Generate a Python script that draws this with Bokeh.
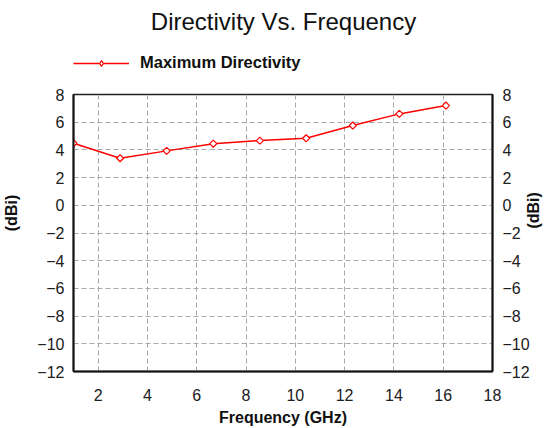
import numpy as np
from bokeh.plotting import figure
from bokeh.layouts import column
from bokeh.models import (Range1d, LinearAxis, FixedTicker, Legend, LegendItem,
                          Label, ColumnDataSource)
from bokeh.embed import file_html
from bokeh.resources import INLINE

# Maximum directivity across the band
freq_ghz = [1.0, 2.89, 4.78, 6.67, 8.56, 10.44, 12.33, 14.22, 16.11]
directivity_dbi = [4.48, 3.40, 3.93, 4.45, 4.67, 4.84, 5.76, 6.60, 7.20]

x_ticks = [2, 4, 6, 8, 10, 12, 14, 16, 18]
y_ticks = [-12, -10, -8, -6, -4, -2, 0, 2, 4, 6, 8]

series_name = "Maximum Directivity"
chart_title = "Directivity Vs. Frequency"
x_title = "Frequency (GHz)"
y_title = "(dBi)"

FONT = "Liberation Sans"
RED = "#ff0000"
INK = "#101010"
W, H = 553, 428
HEADER_H = 80
LEFT, RIGHT, TOP, BOTTOM = 72, 61, 94, 55
FRAME_W = W - LEFT - RIGHT

src = ColumnDataSource(dict(f=freq_ghz, d=directivity_dbi))

# ---- header strip: title and legend (its frame lines up with the chart's) ----
head = figure(width=W, height=HEADER_H, output_backend="svg",
              toolbar_location=None, x_range=Range1d(0, 1),
              y_range=Range1d(-100, -99),
              x_axis_location=None, y_axis_location=None,
              min_border=0, outline_line_color=None,
              background_fill_color="white", border_fill_color="white")
head.grid.visible = False

head.add_layout(Label(text=chart_title, x=FRAME_W / 2, y=HEADER_H - 21,
                      x_units="screen", y_units="screen",
                      text_font=FONT, text_font_size="24px",
                      text_align="center", text_baseline="middle",
                      text_color=INK))

# series drawn again here only to key the legend; it falls outside this range
key_line = head.line("f", "d", source=src, line_color=RED, line_width=1.5)
key_mark = head.scatter("f", "d", source=src, marker="diamond", size=9,
                        line_color=RED, line_width=1.2, fill_color="white")
legend = Legend(items=[LegendItem(label=series_name,
                                  renderers=[key_line, key_mark])],
                location=(0, HEADER_H - 72), orientation="horizontal",
                glyph_width=56, glyph_height=14, label_standoff=11,
                padding=0, margin=0, spacing=0,
                border_line_color=None, background_fill_alpha=0,
                label_text_font=FONT, label_text_font_size="16.5px",
                label_text_font_style="bold", label_text_color=INK)
head.add_layout(legend)

# ---- main chart ----
p = figure(width=W, height=H - HEADER_H, output_backend="svg",
           toolbar_location=None,
           x_range=Range1d(1, 18), y_range=Range1d(-12, 8),
           min_border_left=LEFT, min_border_right=RIGHT,
           min_border_top=TOP - HEADER_H, min_border_bottom=BOTTOM,
           background_fill_color="white", border_fill_color="white")

p.outline_line_color = "#202020"
p.outline_line_width = 1.5

# dashed grid
for g, t in ((p.xgrid, x_ticks[:-1]), (p.ygrid, y_ticks[1:-1])):
    g.ticker = FixedTicker(ticks=t)
    g.grid_line_color = "#a8a8a8"
    g.grid_line_dash = "5 3"
    g.grid_line_width = 1

def style_axis(ax, standoff, label_standoff):
    ax.major_tick_out = 0
    ax.major_tick_in = 0
    ax.minor_tick_line_color = None
    ax.axis_line_color = INK
    ax.axis_line_width = 2
    ax.major_label_text_font = FONT
    ax.major_label_text_font_size = "16px"
    ax.major_label_text_color = "#202020"
    ax.major_label_standoff = standoff
    ax.axis_label_text_font = FONT
    ax.axis_label_text_font_size = "16px"
    ax.axis_label_text_font_style = "bold"
    ax.axis_label_text_color = INK
    ax.axis_label_standoff = label_standoff

# the dBi captions sit a little above the middle of the axis
left_caption = "\u00a0" * 9 + y_title
right_caption = "\u00a0" + y_title   # start-anchored when rotated explicitly

p.xaxis.ticker = FixedTicker(ticks=x_ticks)
p.yaxis.ticker = FixedTicker(ticks=y_ticks)
p.xaxis.axis_label = x_title
p.yaxis.axis_label = left_caption
style_axis(p.xaxis[0], 17, 5)
style_axis(p.yaxis[0], 9, 14)

right = LinearAxis(ticker=FixedTicker(ticks=y_ticks), axis_label=right_caption)
style_axis(right, 10, 1)
if "axis_label_orientation" in right.properties():
    right.axis_label_orientation = np.pi / 2   # read bottom-to-top like the left one
else:
    right.axis_label = left_caption
p.add_layout(right, "right")

p.line("f", "d", source=src, line_color=RED, line_width=1.5)
p.scatter("f", "d", source=src, marker="square", angle=np.pi / 4,
          size=5, line_color=RED, line_width=1.2, fill_color="white")

layout = column(head, p, spacing=0)
open("out.html", "w").write(file_html(layout, INLINE))
